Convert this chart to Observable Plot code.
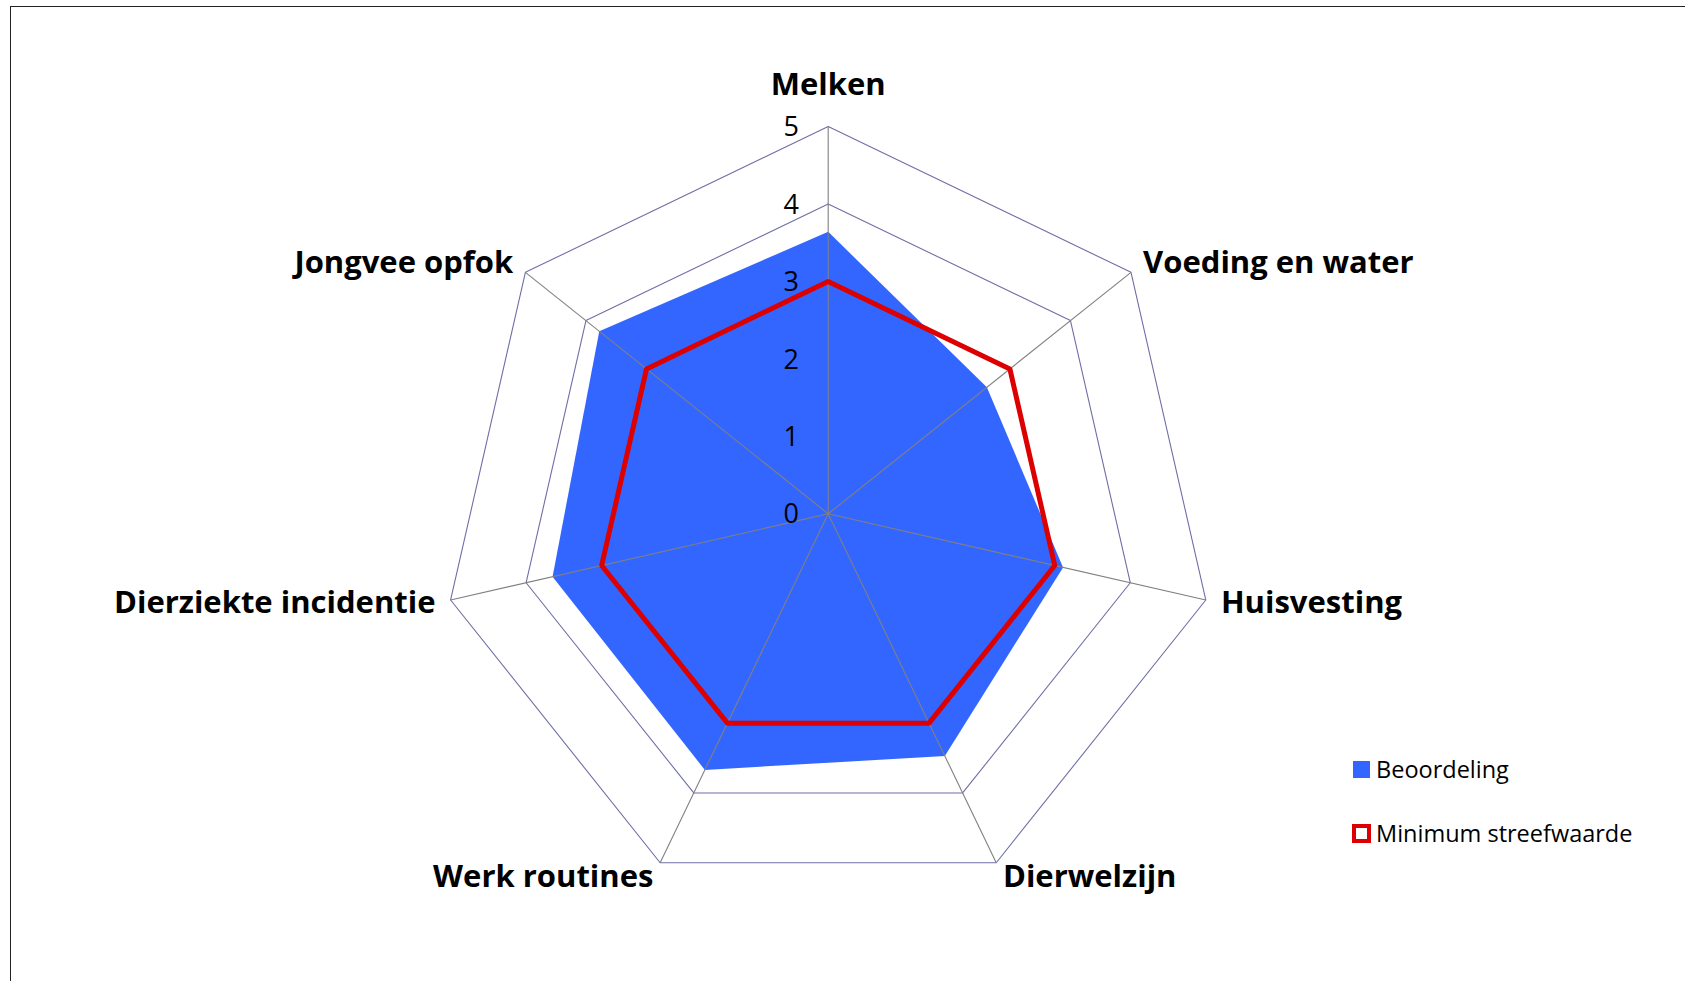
<!DOCTYPE html>
<html><head><meta charset="utf-8">
<script src="https://cdn.jsdelivr.net/npm/d3@7"></script>
<script src="https://cdn.jsdelivr.net/npm/@observablehq/plot@0.6"></script>
<style>
body{margin:0;background:#fff;overflow:hidden;font-family:"Open Sans",sans-serif}
#wrap{position:relative;width:1685px;height:981px}
#border{position:absolute;left:10px;top:6px;right:-10px;bottom:-10px;border-left:1.5px solid #222;border-top:1.5px solid #222;pointer-events:none}
.item{position:absolute;display:flex;align-items:center;height:32px;font-size:23.5px;color:#000;white-space:nowrap}
.sw{display:inline-block;box-sizing:border-box;margin-right:6px}
</style></head>
<body>
<div id="wrap">
  <div id="chart"></div>
  <div id="border"></div>
  <div class="item" style="left:1353px;top:753px"><span class="sw" style="width:17px;height:17px;background:#3366ff"></span>Beoordeling</div>
  <div class="item" style="left:1352px;top:817px"><span class="sw" style="width:19px;height:19px;border:4px solid #dd0000;background:#fff;margin-right:5px"></span>Minimum streefwaarde</div>
</div>
<script>
const categories = ["Melken","Voeding en water","Huisvesting","Dierwelzijn","Werk routines","Dierziekte incidentie","Jongvee opfok"];
const beoordeling = [3.64, 2.62, 3.11, 3.47, 3.67, 3.65, 3.78];
const minimumStreefwaarde = [3, 3, 3, 3, 3, 3, 3];
const tickValues = [0, 1, 2, 3, 4, 5];
const maxValue = 5;

const n = categories.length;
const ang = i => i * 2 * Math.PI / n;
const pt = (i, r) => ({x: r * Math.sin(ang(i)), y: r * Math.cos(ang(i))});

const bluePts = beoordeling.map((v, i) => ({...pt(i, v), cat: categories[i]}));
const redPts = minimumStreefwaarde.map((v, i) => ({...pt(i, v), cat: categories[i]}));
const rings = tickValues.filter(t => t > 0).flatMap(t => categories.map((c, i) => ({...pt(i, t), ring: t})));
const spokes = categories.map((c, i) => ({...pt(i, maxValue), cat: c}));
const labels = categories.map((c, i) => ({...pt(i, maxValue * 1.04), cat: c, s: Math.sin(ang(i))}));

const chart = Plot.plot({
  width: 1685, height: 981,
  marginLeft: 440.4, marginRight: 470, marginTop: 126, marginBottom: 80.4,
  x: {domain: [-maxValue, maxValue], axis: null},
  y: {domain: [-maxValue, maxValue], axis: null},
  style: {fontFamily: "Open Sans, sans-serif", background: "#fff", overflow: "visible"},
  marks: [
    Plot.line(rings, {x: "x", y: "y", z: "ring", curve: "linear-closed", stroke: "#6f6fa6", strokeWidth: 1.1}),
    Plot.line(bluePts, {x: "x", y: "y", curve: "linear-closed", fill: "#3366ff", stroke: "none"}),
    Plot.link(spokes, {x1: () => 0, y1: () => 0, x2: "x", y2: "y", stroke: "#808080", strokeWidth: 1.1}),
    Plot.line(redPts, {x: "x", y: "y", curve: "linear-closed", stroke: "#dd0000", strokeWidth: 5, strokeLinejoin: "miter"}),
    Plot.text(tickValues, {x: () => 0, y: d => d, text: d => String(d), dx: -37, dy: 1, fontSize: 27, fill: "#000", textAnchor: "middle"}),
    Plot.text(labels.filter(d => Math.abs(d.s) < 1e-6), {x: "x", y: "y", text: "cat", dy: -26, fontSize: 31, fontWeight: "bold", fill: "#000", textAnchor: "middle"}),
    Plot.text(labels.filter(d => d.s > 1e-6), {x: "x", y: "y", text: "cat", fontSize: 31, fontWeight: "bold", fill: "#000", textAnchor: "start"}),
    Plot.text(labels.filter(d => d.s < -1e-6), {x: "x", y: "y", text: "cat", fontSize: 31, fontWeight: "bold", fill: "#000", textAnchor: "end"})
  ]
});
document.getElementById("chart").appendChild(chart);
</script>
</body></html>
